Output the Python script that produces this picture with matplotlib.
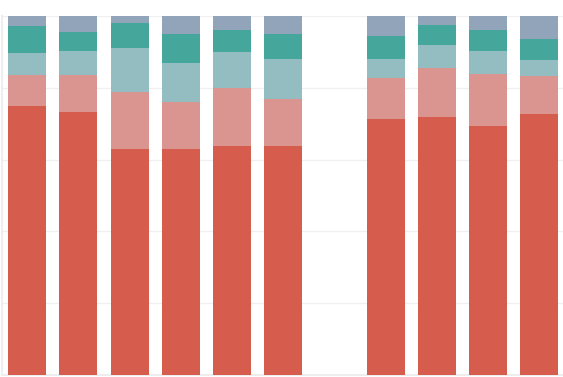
import numpy as np
import matplotlib
matplotlib.use("Agg")
import matplotlib.pyplot as plt

# slots along the x axis, slot 7 is left empty in the original
slots = ["A", "B", "C", "D", "E", "F", "G", "H", "I", "J", "K"]

# shares in percent, bottom segment first
seg1 = [74.9, 73.3, 63.0, 63.0, 63.8, 63.8, 0, 71.3, 71.9, 69.4, 72.7]
seg2 = [8.7, 10.3, 15.8, 13.0, 16.1, 13.1, 0, 11.4, 13.6, 14.4, 10.6]
seg3 = [6.1, 6.7, 12.3, 10.9, 10.1, 11.1, 0, 5.3, 6.4, 6.5, 4.4]
seg4 = [7.5, 5.2, 7.0, 8.1, 6.1, 7.0, 0, 6.4, 5.6, 5.8, 5.9]
seg5 = [2.8, 4.5, 1.9, 5.0, 3.9, 5.0, 0, 5.6, 2.5, 3.9, 6.4]

colors = ["#d65c4e", "#da9591", "#94bdc2", "#45a69b", "#91a4b9"]

fig = plt.figure(figsize=(5.63, 3.77), dpi=100)
ax = fig.add_axes([1.5 / 563, 2 / 377, 563.5 / 563, 359 / 377])

x = np.arange(len(slots))
bottom = np.zeros(len(slots))
for vals, c in zip([seg1, seg2, seg3, seg4, seg5], colors):
    ax.bar(x, vals, width=0.742, bottom=bottom, color=c, zorder=3)
    bottom += np.array(vals)

ax.set_xlim(-0.5, len(slots) - 0.5)
ax.set_ylim(0, 100)
ax.set_yticks([20, 40, 60, 80, 100])
ax.grid(axis="y", color="#f0f0f0", linewidth=1, zorder=0)
ax.tick_params(left=False, bottom=False, labelleft=False, labelbottom=False)
for s in ["top", "right"]:
    ax.spines[s].set_visible(False)
for s in ["left", "bottom"]:
    ax.spines[s].set_color("#eeeeee")
    ax.spines[s].set_linewidth(1.5)

fig.savefig("out.png", dpi=100)
